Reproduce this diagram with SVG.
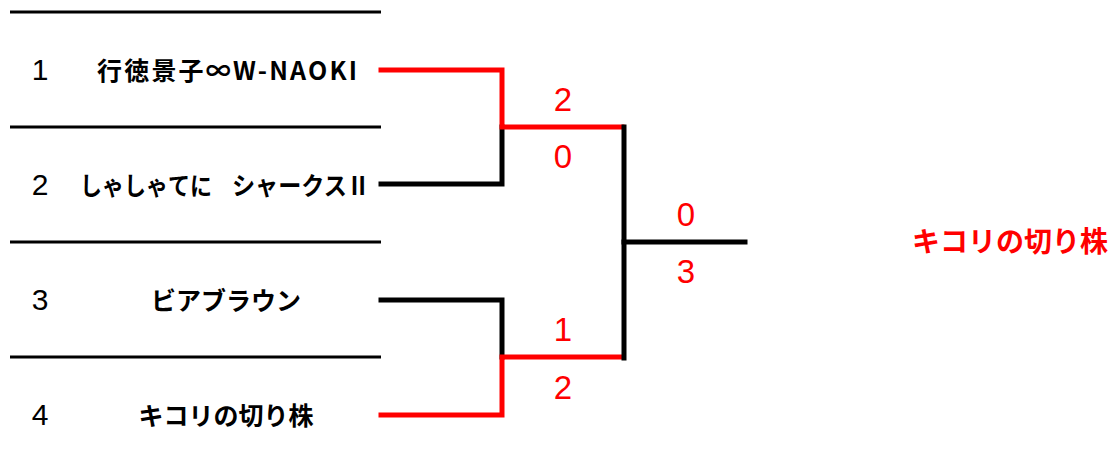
<svg xmlns="http://www.w3.org/2000/svg" width="1111" height="469" viewBox="0 0 1111 469">
<style>
.sep{stroke:#000;stroke-width:3;fill:none}
.blk{stroke:#000;stroke-width:5;fill:none;stroke-linecap:square}
.red{stroke:#ff0000;stroke-width:5;fill:none;stroke-linecap:square}
.num{font-family:"Liberation Sans","Noto Sans CJK JP",sans-serif;font-size:30px;fill:#000;text-anchor:middle}
.name{font-family:"Noto Sans CJK JP",sans-serif;font-size:25px;font-weight:bold;fill:#000;text-anchor:middle}
.score{font-family:"Liberation Sans","Noto Sans CJK JP",sans-serif;font-size:33px;fill:#ff0000;text-anchor:middle}
.win{font-family:"Noto Sans CJK JP",sans-serif;font-size:28px;font-weight:bold;fill:#ff0000;text-anchor:middle}
</style>
<rect width="1111" height="469" fill="#fff"/>
<g id="separators">
<line class="sep" x1="10" y1="12" x2="381" y2="12"/>
<line class="sep" x1="10" y1="127" x2="381" y2="127"/>
<line class="sep" x1="10" y1="242" x2="381" y2="242"/>
<line class="sep" x1="10" y1="357" x2="381" y2="357"/>
</g>
<g id="team1"><text class="num" x="40" y="80">1</text><text class="name" x="227" y="80" textLength="260" lengthAdjust="spacing">行徳景子∞W-NAOKI</text></g>
<g id="team2"><text class="num" x="40" y="195">2</text><text class="name" x="80" y="195" style="text-anchor:start"><tspan x="80" textLength="132" lengthAdjust="spacingAndGlyphs">しゃしゃてに</tspan> <tspan x="232" textLength="138" lengthAdjust="spacingAndGlyphs">シャークスⅡ</tspan></text></g>
<g id="team3"><text class="num" x="40" y="310">3</text><text class="name" x="226" y="310">ビアブラウン</text></g>
<g id="team4"><text class="num" x="40" y="425">4</text><text class="name" x="226" y="425">キコリの切り株</text></g>
<g id="connectors">
<polyline class="blk" points="381,184 502,184 502,127"/>
<polyline class="red" points="381,70 502,70 502,127 622,127"/>
<polyline class="blk" points="381,300 502,300 502,357"/>
<polyline class="red" points="381,415 502,415 502,357 622,357"/>
<polyline class="blk" points="624,127 624,358"/>
<line class="blk" x1="624" y1="242" x2="745" y2="242"/>
</g>
<g id="scores">
<text class="score" x="563" y="111">2</text>
<text class="score" x="563" y="168">0</text>
<text class="score" x="563" y="341">1</text>
<text class="score" x="563" y="399">2</text>
<text class="score" x="686" y="226">0</text>
<text class="score" x="686" y="283">3</text>
</g>
<g id="winner"><text class="win" x="1010" y="252">キコリの切り株</text></g>
</svg>
